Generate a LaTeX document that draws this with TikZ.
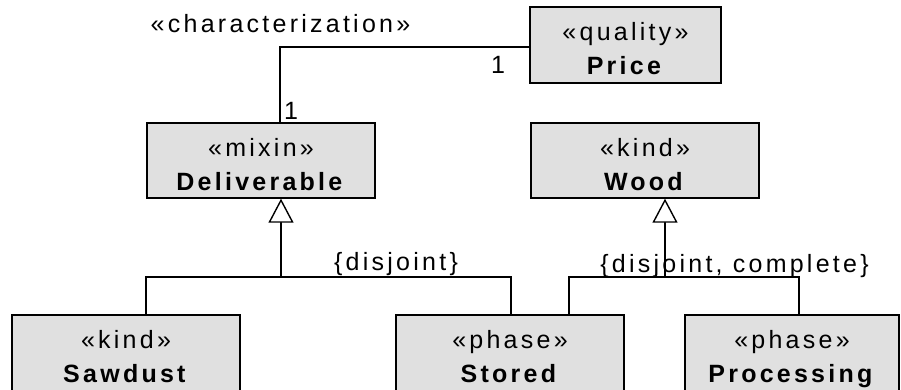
\documentclass[tikz,border=0pt]{standalone}
\usepackage{fontspec}
\setmainfont{Liberation Sans}
\newfontfamily\umlfont[LetterSpace=13]{Liberation Sans}
\usetikzlibrary{arrows.meta}
\definecolor{boxfill}{RGB}{224,224,224}
\newcommand{\umltop}{\rule{0pt}{30pt}}
\newcommand{\umlbot}{\rule[-5pt]{0pt}{5pt}}
\newcommand{\umlclass}[2]{\umltop«#1»\\\textbf{#2}\umlbot}
\begin{document}
\begin{tikzpicture}[x=1pt,y=-1pt,
  every node/.style={font=\umlfont\fontsize{25}{34}\selectfont},
  classbox/.style={draw=black, line width=1.4pt, fill=boxfill, rectangle,
    inner sep=0pt, align=center, minimum width=228pt, minimum height=75pt},
  conn/.style={draw=black, line width=1.4pt},
  gen/.style={conn, -{Triangle[open, length=24pt, width=25pt, fill=white]}},
  lbl/.style={anchor=base, inner sep=0pt}]
  \useasboundingbox (0,0) rectangle (901,390);

  % classes
  \node[classbox, minimum width=191pt, minimum height=76pt] (price) at (625.5,45) {\umlclass{quality}{Price}};
  \node[classbox] (del) at (261,160.5) {\umlclass{mixin}{Deliverable}};
  \node[classbox] (wood) at (645,160.5) {\umlclass{kind}{Wood}};
  \node[classbox, minimum height=75.5pt] (saw) at (126,352.75) {\umlclass{kind}{Sawdust}};
  \node[classbox, minimum height=75.5pt] (sto) at (510,352.75) {\umlclass{phase}{Stored}};
  \node[classbox, minimum width=214pt, minimum height=75.5pt] (proc) at (792,352.75) {\umlclass{phase}{Processing}};

  % characterization association
  \draw[conn] ([xshift=19pt]del.north) |- ([yshift=-2pt]price.west);
  \node[lbl] (chr) at (280.5,33) {«characterization»};
  \node[lbl] (mprice) at (498,74) {1};
  \node[lbl] (mdel) at (291,120) {1};

  % generalization set of Deliverable
  \coordinate (j1) at (281,277);
  \draw[conn] ([xshift=20pt]saw.north) |- (j1) -| ([xshift=1pt]sto.north);
  \draw[gen] (j1) -- ([xshift=20pt]del.south);
  \node[lbl] (gs1) at (396,270) {\{disjoint\}};

  % generalization set of Wood
  \coordinate (j2) at (665,277);
  \draw[conn] ([xshift=59pt]sto.north) |- (j2) -| ([xshift=7pt]proc.north);
  \draw[gen] (j2) -- ([xshift=20pt]wood.south);
  \node[lbl] (gs2) at (734.5,272) {\{disjoint, complete\}};
\end{tikzpicture}
\end{document}
